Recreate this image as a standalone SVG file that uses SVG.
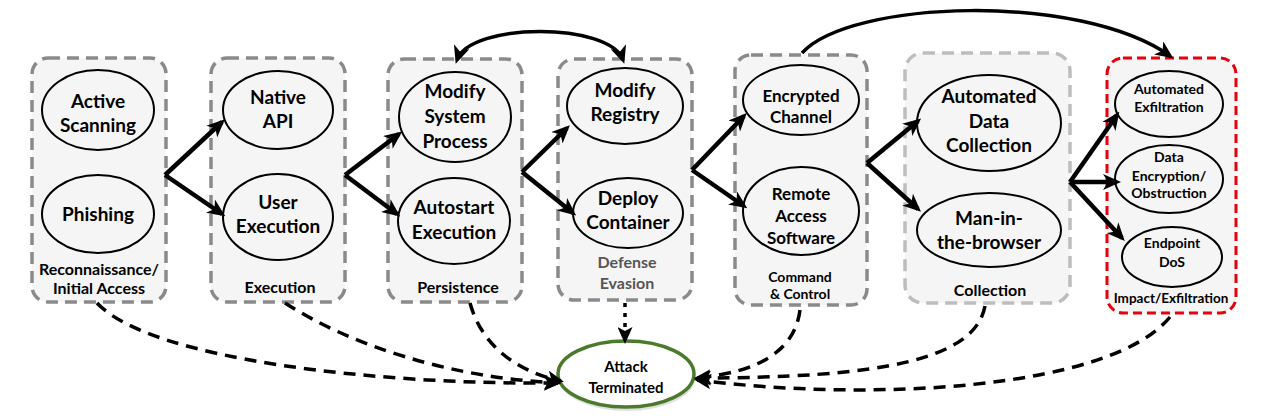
<svg xmlns="http://www.w3.org/2000/svg" width="1262" height="420" viewBox="0 0 1262 420">
<defs>
<style>
text{font-family:Lato,"Open Sans","Liberation Sans",sans-serif;font-weight:bold;text-anchor:middle;fill:#000}
.box{fill:#f5f5f5;stroke:#8a8a8a;stroke-width:3.5;stroke-dasharray:12 7}
.box.light{stroke:#bdbdbd}
.box.red{stroke:#e8000b;stroke-width:3;stroke-dasharray:9 5}
.ell{fill:#f5f5f5;stroke:#000;stroke-width:2}
.t19{font-size:19px}
.t17{font-size:17px}
.t14{font-size:14px}
.t15{font-size:15px}
.lab{font-size:16px}
.lab14{font-size:14px}
.lab13{font-size:13.5px}
.arr{fill:none;stroke:#000;stroke-width:4.5;marker-end:url(#ah)}
.curve{fill:none;stroke:#000;stroke-width:3.5}
.dash{fill:none;stroke:#000;stroke-width:3.5;stroke-dasharray:12 8;marker-end:url(#dh)}
</style>
<marker id="ah" markerUnits="userSpaceOnUse" viewBox="0 0 18 16" markerWidth="18" markerHeight="16" refX="14" refY="8" orient="auto-start-reverse"><path d="M0,0 L18,8 L0,16 L5,8 z" fill="#000"/></marker>
<marker id="dh" markerUnits="userSpaceOnUse" viewBox="0 0 17 15" markerWidth="17" markerHeight="15" refX="14" refY="7.5" orient="auto"><path d="M0,0 L17,7.5 L0,15 L4,7.5 z" fill="#000"/></marker>
</defs>
<rect width="1262" height="420" fill="#fff"/>

<g id="recon">
<rect class="box" x="32" y="58" width="134" height="244" rx="16"/>
<ellipse class="ell" cx="98" cy="110" rx="56" ry="40"/>
<text class="t19" x="98" y="108">Active</text>
<text class="t19" x="98" y="132">Scanning</text>
<ellipse class="ell" cx="98" cy="214" rx="56" ry="39"/>
<text class="t19" x="98" y="221">Phishing</text>
<text class="lab" x="99" y="275">Reconnaissance/</text>
<text class="lab" x="99" y="294">Initial Access</text>
</g>

<g id="execution">
<rect class="box" x="211" y="58" width="134" height="244" rx="16"/>
<ellipse class="ell" cx="278" cy="110" rx="55" ry="39"/>
<text class="t19" x="278" y="104">Native</text>
<text class="t19" x="278" y="128">API</text>
<ellipse class="ell" cx="278" cy="217" rx="55" ry="43"/>
<text class="t19" x="278" y="209">User</text>
<text class="t19" x="278" y="233">Execution</text>
<text class="lab" x="280" y="293">Execution</text>
</g>

<g id="persistence">
<rect class="box" x="388" y="59" width="134" height="243" rx="16"/>
<ellipse class="ell" cx="455" cy="117" rx="56" ry="45"/>
<text class="t19" x="455" y="98">Modify</text>
<text class="t19" x="455" y="123">System</text>
<text class="t19" x="455" y="148">Process</text>
<ellipse class="ell" cx="454" cy="221" rx="56" ry="43"/>
<text class="t19" x="454" y="214">Autostart</text>
<text class="t19" x="454" y="239">Execution</text>
<text class="lab" x="458" y="293">Persistence</text>
</g>

<g id="defense">
<rect class="box" x="558" y="59" width="134" height="241" rx="16"/>
<ellipse class="ell" cx="625" cy="106" rx="58" ry="38"/>
<text class="t19" x="625" y="97">Modify</text>
<text class="t19" x="625" y="121">Registry</text>
<ellipse class="ell" cx="628" cy="213" rx="55" ry="35"/>
<text class="t19" x="628" y="205">Deploy</text>
<text class="t19" x="628" y="229">Container</text>
<text class="lab" x="627" y="268" style="fill:#555">Defense</text>
<text class="lab" x="627" y="289" style="fill:#555">Evasion</text>
</g>

<g id="c2">
<rect class="box" x="735" y="55" width="132" height="250" rx="16"/>
<ellipse class="ell" cx="801" cy="100" rx="58" ry="35"/>
<text class="t17" x="801" y="102">Encrypted</text>
<text class="t17" x="801" y="123">Channel</text>
<ellipse class="ell" cx="801" cy="211" rx="58" ry="44"/>
<text class="t17" x="801" y="200">Remote</text>
<text class="t17" x="801" y="222">Access</text>
<text class="t17" x="801" y="244">Software</text>
<text class="lab14" x="800" y="282">Command</text>
<text class="lab14" x="800" y="299">&amp; Control</text>
</g>

<g id="collection">
<rect class="box light" x="905" y="53" width="165" height="250" rx="18"/>
<ellipse class="ell" cx="989" cy="123" rx="72" ry="48"/>
<text class="t19" x="989" y="103">Automated</text>
<text class="t19" x="989" y="128">Data</text>
<text class="t19" x="989" y="152">Collection</text>
<ellipse class="ell" cx="989" cy="230" rx="72" ry="37"/>
<text class="t19" x="989" y="225">Man-in-</text>
<text class="t19" x="989" y="249">the-browser</text>
<text class="lab" x="990" y="296">Collection</text>
</g>

<g id="impact">
<rect class="box red" x="1107" y="58" width="129" height="255" rx="16"/>
<ellipse class="ell" cx="1169" cy="104" rx="54" ry="33"/>
<text class="t14" x="1169" y="94">Automated</text>
<text class="t14" x="1169" y="112">Exfiltration</text>
<ellipse class="ell" cx="1169" cy="179" rx="54" ry="34"/>
<text class="t14" x="1169" y="162">Data</text>
<text class="t14" x="1169" y="181">Encryption/</text>
<text class="t14" x="1169" y="198">Obstruction</text>
<ellipse class="ell" cx="1172" cy="257" rx="50" ry="30"/>
<text class="t14" x="1172" y="248">Endpoint</text>
<text class="t14" x="1172" y="267">DoS</text>
<text class="lab13" x="1171" y="303">Impact/Exfiltration</text>
</g>

<g id="terminated">
<ellipse cx="627" cy="378" rx="68" ry="33" fill="#000" opacity="0.12"/>
<ellipse cx="626" cy="374" rx="68" ry="33" fill="#fff" stroke="#4b7a2c" stroke-width="3.5"/>
<text class="t15" x="626" y="372">Attack</text>
<text class="t15" x="626" y="393">Terminated</text>
</g>

<g id="connectors">
<path class="arr" d="M165,175 L222,122"/>
<path class="arr" d="M165,175 L222,214"/>
<path class="arr" d="M345,175 L399,134"/>
<path class="arr" d="M345,175 L397,214"/>
<path class="arr" d="M522,172 L567,128"/>
<path class="arr" d="M522,172 L573,213"/>
<path class="arr" d="M692,170 L744,116"/>
<path class="arr" d="M692,170 L744,206"/>
<path class="arr" d="M867,163 L918,121"/>
<path class="arr" d="M867,163 L918,209"/>
<path class="arr" d="M1070,182 L1117,115"/>
<path class="arr" d="M1070,182 L1117,182"/>
<path class="arr" d="M1070,182 L1122,238"/>
<path class="curve" d="M457,60 C470,22 610,22 623,60" marker-start="url(#ah)" marker-end="url(#ah)"/>
<path class="curve" d="M802,53 C850,0 1080,-8 1170,56" marker-end="url(#ah)"/>
<path class="dash" d="M97,303 C150,360 380,385 558,383"/>
<path class="dash" d="M285,303 C350,345 450,378 558,383"/>
<path class="dash" d="M470,303 C480,340 510,370 561,381"/>
<path class="dash" d="M625,303 L625,341" style="stroke-dasharray:4 6"/>
<path class="dash" d="M800,310 C795,350 760,372 697,378"/>
<path class="dash" d="M985,306 C975,360 880,378 697,378"/>
<path class="dash" d="M1170,317 C1110,390 870,402 697,380"/>
</g>
</svg>
